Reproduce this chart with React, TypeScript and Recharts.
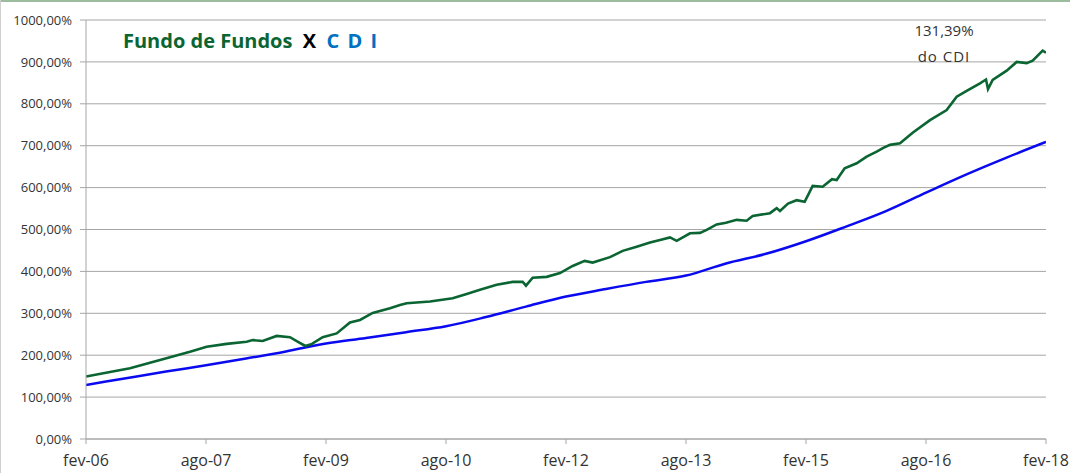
import React from "react";
import { LineChart, Line, XAxis, YAxis, CartesianGrid } from "recharts";

// month index (0 = fev-06) and value (%) for "Fundo de Fundos"
const fundoMonths = [0, 3.6, 6.6, 9.6, 12.6, 15.6, 18.1, 21.1, 24.1, 25, 26.5, 28.6, 30.6, 31.8, 32.9, 33.9, 35.5, 37.6, 39.6, 41.1, 43, 45.6, 47.1, 48.1, 51.6, 55, 57.1, 59.1, 61.6, 64, 65.5, 66, 67, 69.1, 71.1, 73, 74.8, 76, 78.6, 80.5, 82.6, 84.6, 86.1, 87.6, 88.6, 90.6, 92.1, 93.1, 94.6, 96, 97.6, 99.1, 100, 102.6, 103.6, 104.1, 105.3, 106.6, 107.8, 109, 110.5, 111.9, 112.6, 113.8, 115.6, 117.1, 118.6, 119.6, 120.6, 122.1, 124, 126.6, 129.1, 130.6, 132.1, 134.1, 135, 135.3, 136, 138.1, 139.6, 141.1, 142, 143.5, 144];
const fundoValues = [149, 160, 169, 182, 195, 208, 220, 227, 232, 236, 234, 246, 243, 232, 222, 227, 243, 252, 278, 284, 301, 312, 320, 324, 328, 336, 346, 356, 368, 375, 375, 366, 385, 387, 396, 413, 425, 421, 434, 449, 459, 469, 475, 481, 473, 491, 492, 499, 512, 516, 523, 521, 532, 539, 551, 544, 562, 570, 566, 604, 602, 620, 618, 646, 658, 674, 686, 695, 702, 706, 731, 761, 785, 817, 831, 849, 858, 835, 857, 879, 900, 897, 903, 927, 922];

// month index and value (%) for CDI
const cdiMonths = [0, 6, 12, 18, 24, 30, 36, 42, 48, 54, 60, 66, 72, 78, 84, 90, 96, 102, 108, 114, 120, 126, 132, 138, 144];
const cdiValues = [129, 145, 161, 176, 192, 209, 228, 241, 255, 269, 291, 316, 340, 358, 375, 390, 419, 442, 472, 507, 544, 588, 631, 671, 709];

const tickMonths = [0, 18, 36, 54, 72, 90, 108, 126, 144];
const tickLabels = ["fev-06", "ago-07", "fev-09", "ago-10", "fev-12", "ago-13", "fev-15", "ago-16", "fev-18"];
const yTicks = [0, 100, 200, 300, 400, 500, 600, 700, 800, 900, 1000];

const fundoData = fundoMonths.map((m, i) => ({ m, v: fundoValues[i] }));
const cdiData = cdiMonths.map((m, i) => ({ m, v: cdiValues[i] }));

const fmtY = (v: number) => v.toFixed(2).replace(".", ",") + "%";
const fmtX = (v: number) => {
  const i = tickMonths.indexOf(v);
  return i >= 0 ? tickLabels[i] : "";
};

export default function App() {
  return (
    <div
      style={{
        position: "absolute",
        left: 0,
        top: 0,
        width: 1070,
        height: 473,
        background: "#fff",
        fontFamily: "'Open Sans', sans-serif",
        overflow: "hidden",
      }}
    >
      <div style={{ position: "absolute", left: 0, top: 0, width: 1070, height: 2, background: "#9DBB9D" }} />
      <div style={{ position: "absolute", left: 0, top: 0, width: 1, height: 473, background: "#D0D0D0" }} />
      <LineChart width={1070} height={473} margin={{ top: 20, right: 24, bottom: 0, left: 0 }}>
        <CartesianGrid horizontal={true} vertical={false} stroke="#A6A6A6" strokeWidth={1} />
        <XAxis
          type="number"
          dataKey="m"
          domain={[0, 144]}
          ticks={tickMonths}
          tickFormatter={fmtX}
          height={34}
          stroke="#A6A6A6"
          tickSize={5}
          tickMargin={11}
          tick={{ fill: "#333", fontSize: 16, fontFamily: "'Open Sans', sans-serif" }}
          allowDataOverflow
        />
        <YAxis
          type="number"
          domain={[0, 1000]}
          ticks={yTicks}
          tickFormatter={fmtY}
          width={86}
          stroke="#A6A6A6"
          tickSize={6}
          tickMargin={8}
          tick={{ fill: "#333", fontSize: 13, fontFamily: "'Open Sans', sans-serif" }}
        />
        <Line
          data={cdiData}
          dataKey="v"
          type="monotone"
          stroke="#0A0AF0"
          strokeWidth={2.5}
          dot={false}
          isAnimationActive={false}
        />
        <Line
          data={fundoData}
          dataKey="v"
          stroke="#0B6532"
          strokeWidth={2.6}
          dot={false}
          isAnimationActive={false}
        />
      </LineChart>
      <div
        style={{
          position: "absolute",
          left: 123,
          top: 27,
          fontSize: 20,
          fontWeight: 700,
          whiteSpace: "pre",
          fontFamily: "'Open Sans', sans-serif",
        }}
      >
        <span style={{ color: "#0B6532" }}>Fundo de Fundos</span>
        <span style={{ color: "#000" }}>{"  X  "}</span>
        <span style={{ color: "#0070C0", letterSpacing: 1.5 }}>C D I</span>
      </div>
      <div
        style={{
          position: "absolute",
          left: 894,
          top: 17,
          width: 100,
          textAlign: "center",
          fontSize: 15,
          lineHeight: "26px",
          color: "#333",
          fontFamily: "'Open Sans', sans-serif",
        }}
      >
        <div>131,39%</div>
        <div style={{ letterSpacing: 1 }}>do CDI</div>
      </div>
    </div>
  );
}
